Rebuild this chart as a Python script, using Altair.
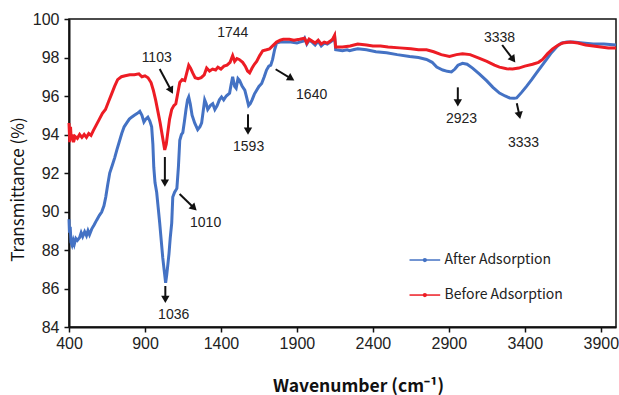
import math
import altair as alt
import pandas as pd

# ---------------- data ----------------
before_wn = [400, 405, 410, 415, 422, 430, 440, 455, 470, 485, 500, 515, 530, 545, 560, 580, 600, 620, 640, 660,
             680, 700, 720, 745, 770, 800, 830, 860, 880, 900, 920, 940, 955, 970, 985, 1000, 1015, 1030, 1040, 1050,
             1062, 1076, 1090, 1103, 1115, 1129, 1145, 1162, 1175, 1188, 1200, 1214, 1230, 1250, 1270, 1290, 1306,
             1325, 1345, 1365, 1380, 1400, 1420, 1440, 1460, 1477, 1490, 1505, 1520, 1543, 1560, 1575, 1589, 1605,
             1620, 1635, 1655, 1675, 1700, 1720, 1740, 1766, 1790, 1810, 1850, 1880, 1918, 1950, 1965, 1980, 2000,
             2020, 2040, 2060, 2080, 2100, 2120, 2135, 2148, 2155, 2200, 2250, 2300, 2358, 2400, 2450, 2500, 2576,
             2650, 2700, 2753, 2800, 2850, 2904, 2950, 2990, 3040, 3102, 3150, 3200, 3233, 3280, 3319, 3360, 3400,
             3451, 3490, 3517, 3550, 3583, 3620, 3649, 3700, 3750, 3800, 3850, 3900, 3950, 4000]
before_t = [94.6, 93.6, 94.4, 93.7, 94.0, 93.6, 93.9, 93.8, 94.0, 93.85, 94.0, 93.85, 94.05, 93.95, 94.2, 94.5, 94.8,
            95.1, 95.3, 95.7, 96.1, 96.5, 96.85, 97.0, 97.05, 97.1, 97.1, 97.15, 97.0, 97.05, 96.95, 96.7, 96.3,
            95.8, 95.2, 94.6, 93.9, 93.2, 93.5, 94.1, 94.8, 95.3, 95.5, 95.6, 96.1, 96.7, 96.85, 96.8, 97.2, 97.6,
            97.45, 97.2, 96.95, 96.9, 96.95, 97.1, 97.45, 97.3, 97.4, 97.35, 97.5, 97.4, 97.55, 97.6, 97.75, 98.1,
            97.8, 97.95, 97.9, 97.75, 97.55, 97.3, 97.2, 97.45, 97.65, 97.8, 98.1, 98.35, 98.4, 98.45, 98.6, 98.8,
            98.9, 98.95, 98.95, 98.9, 98.95, 99.0, 98.75, 98.95, 98.85, 98.75, 98.9, 98.7, 98.8, 98.75, 98.85,
            98.95, 99.15, 98.55, 98.55, 98.6, 98.7, 98.65, 98.6, 98.6, 98.55, 98.5, 98.45, 98.4, 98.4, 98.3, 98.15,
            98.05, 98.15, 98.2, 98.15, 97.95, 97.8, 97.6, 97.5, 97.42, 97.4, 97.45, 97.55, 97.65, 97.75, 97.9,
            98.2, 98.45, 98.65, 98.75, 98.8, 98.75, 98.65, 98.6, 98.55, 98.5, 98.5]

after_wn = [400, 403, 408, 413, 420, 428, 435, 445, 455, 470, 480, 490, 503, 515, 525, 535, 550, 565, 582, 600, 615,
            630, 642, 655, 668, 685, 701, 715, 730, 747, 763, 780, 797, 812, 830, 850, 866, 880, 893, 905, 919, 932,
            944, 952, 958, 966, 977, 987, 997, 1007, 1017, 1027, 1036, 1043, 1050, 1058, 1066, 1076, 1083, 1095,
            1110, 1120, 1129, 1140, 1149, 1160, 1170, 1180, 1188, 1198, 1210, 1227, 1247, 1262, 1273, 1283, 1293,
            1303, 1313, 1330, 1346, 1360, 1375, 1390, 1404, 1418, 1435, 1457, 1467, 1477, 1490, 1500, 1512, 1523,
            1540, 1557, 1570, 1582, 1593, 1605, 1620, 1635, 1650, 1668, 1685, 1700, 1715, 1728, 1740, 1753, 1766,
            1790, 1820, 1860, 1900, 1918, 1940, 1951, 1965, 1980, 2000, 2020, 2040, 2060, 2080, 2100, 2120, 2135,
            2148, 2155, 2200, 2230, 2247, 2270, 2300, 2358, 2420, 2490, 2560, 2642, 2700, 2753, 2790, 2820, 2860,
            2890, 2917, 2940, 2960, 2990, 3020, 3056, 3100, 3148, 3190, 3233, 3270, 3300, 3330, 3346, 3380, 3411,
            3445, 3477, 3510, 3543, 3575, 3609, 3640, 3675, 3720, 3780, 3850, 3920, 4000]
after_t = [89.6, 88.9, 89.2, 88.4, 88.25, 88.5, 88.3, 88.6, 88.5, 88.65, 88.9, 88.7, 88.95, 88.75, 89.0, 88.8, 89.1,
           89.3, 89.55, 89.8, 89.97, 90.3, 90.75, 91.4, 92.0, 92.4, 92.8, 93.2, 93.6, 94.05, 94.4, 94.6, 94.8, 94.9,
           95.0, 95.1, 95.2, 95.0, 94.65, 94.8, 94.9, 94.7, 94.4, 93.5, 92.3, 91.5, 91.0, 90.2, 89.4, 88.5, 87.6,
           86.9, 86.3, 86.7, 87.2, 87.8, 88.6, 89.4, 90.75, 91.0, 91.2, 92.3, 93.7, 94.0, 94.1, 94.7, 95.3, 95.8,
           95.95, 95.6, 95.0, 94.6, 94.25, 94.4, 94.6, 95.2, 95.8, 95.6, 95.3, 95.5, 95.6, 95.3, 95.5, 95.8, 95.95,
           95.8, 96.0, 96.15, 96.6, 97.0, 96.5, 96.4, 96.9, 96.8, 96.5, 96.3, 95.9, 95.5, 95.6, 95.8, 96.1, 96.3,
           96.5, 96.65, 97.0, 97.35, 97.55, 97.6, 97.9, 98.4, 98.75, 98.8, 98.8, 98.8, 98.75, 98.8, 98.85, 99.0,
           98.7, 98.9, 98.8, 98.65, 98.85, 98.6, 98.75, 98.7, 98.8, 98.9, 99.1, 98.4, 98.35, 98.4, 98.35, 98.4,
           98.45, 98.4, 98.3, 98.25, 98.15, 98.05, 98.0, 97.9, 97.75, 97.5, 97.35, 97.28, 97.25, 97.4, 97.6, 97.7,
           97.65, 97.45, 97.15, 96.8, 96.45, 96.15, 96.0, 95.9, 95.88, 95.9, 96.2, 96.5, 96.85, 97.2, 97.55, 97.9,
           98.25, 98.55, 98.75, 98.8, 98.8, 98.75, 98.7, 98.7, 98.65]

series_names = ["After Adsorption", "Before Adsorption"]
series_colors = ["#4472C4", "#ED1C24"]

x_ticks = [400, 900, 1400, 1900, 2400, 2900, 3400, 3900]
y_ticks = [84, 86, 88, 90, 92, 94, 96, 98, 100]

ann_text = ["1103", "1744", "1640", "1593", "2923", "3338", "3333", "1010", "1036"]
ann_x = [977, 1478, 1997, 1582, 2983, 3233, 3391, 1299, 1089]
ann_y = [97.97, 99.27, 96.05, 93.35, 94.8, 99.0, 93.55, 89.4, 84.62]

arrow_x1 = [997, 1760, 1578, 1031, 1128, 1034, 2959, 3251, 3347]
arrow_y1 = [97.40, 97.39, 95.05, 92.83, 90.91, 86.13, 96.45, 98.65, 95.62]
arrow_x2 = [1085, 1885, 1578, 1031, 1242, 1034, 2959, 3339, 3370]
arrow_y2 = [96.10, 96.80, 93.97, 91.27, 90.04, 85.23, 95.44, 97.73, 94.79]

# ---------------- layout ----------------
W, H = 547, 308
XD = [400, 4000]
YD = [84, 100]
SX = W / (XD[1] - XD[0])
SY = H / (YD[1] - YD[0])
HEAD_BACK = 4.0  # px the triangle centre sits behind the arrow tip

LEG_X1, LEG_X2, LEG_XT = 2641, 2843, 2872
LEG_Y = [87.48, 85.66]

TICK_FONT = "Liberation Sans"
CJK_FONT = "Noto Sans CJK SC"

# ---------------- frames ----------------
lines_df = pd.concat([
    pd.DataFrame({"wn": after_wn, "t": after_t, "series": series_names[0]}),
    pd.DataFrame({"wn": before_wn, "t": before_t, "series": series_names[1]}),
])

ann_df = pd.DataFrame({"x": ann_x, "y": ann_y, "label": ann_text})

rows = []
for x1, y1, x2, y2 in zip(arrow_x1, arrow_y1, arrow_x2, arrow_y2):
    dxp = (x2 - x1) * SX
    dyp = -(y2 - y1) * SY  # pixel, down positive
    L = math.hypot(dxp, dyp)
    ux, uy = dxp / L, dyp / L
    hx = x2 - ux * HEAD_BACK / SX
    hy = y2 + uy * HEAD_BACK / SY
    ang = math.degrees(math.atan2(dxp, -dyp)) % 360
    rows.append({"x1": x1, "y1": y1, "hx": hx, "hy": hy, "ang": ang})
arrow_df = pd.DataFrame(rows)

leg_df = pd.DataFrame({
    "series": series_names,
    "xa": [LEG_X1] * 2, "xb": [LEG_X2] * 2,
    "xm": [(LEG_X1 + LEG_X2) / 2] * 2, "xt": [LEG_XT] * 2,
    "y": LEG_Y,
})

xscale = alt.Scale(domain=XD, nice=False, zero=False)
yscale = alt.Scale(domain=YD, nice=False, zero=False)
cscale = alt.Scale(domain=series_names, range=series_colors)

x_axis = alt.Axis(
    values=x_ticks, title="Wavenumber (cm⁻¹)", format="d",
    titleX=289, titleY=59, titleAlign="center", titleBaseline="middle",
    titleFont=CJK_FONT, titleFontSize=17.5, titleFontWeight="bold", titleColor="#111",
    labelFont=TICK_FONT, labelFontSize=16, labelColor="#222", labelPadding=3,
    tickSize=5, tickWidth=1.5, tickColor="#111", domainColor="#111", domainWidth=2,
    grid=False, labelFlush=False, labelOverlap=False)
y_axis = alt.Axis(
    values=y_ticks, title="Transmittance (%)",
    titleX=-51, titleY=170, titleAngle=270, titleBaseline="middle", titleAlign="center",
    titleFont=CJK_FONT, titleFontSize=17, titleFontWeight="normal", titleColor="#111",
    labelFont=TICK_FONT, labelFontSize=16, labelColor="#222", labelPadding=5,
    tickSize=5, tickWidth=1.5, tickColor="#111", domainColor="#111", domainWidth=2,
    grid=False, labelFlush=False, labelOverlap=False)


def X(field):
    return alt.X(field, scale=xscale, axis=x_axis, title="Wavenumber (cm⁻¹)")


def Y(field):
    return alt.Y(field, scale=yscale, axis=y_axis, title="Transmittance (%)")


base_lines = alt.Chart(lines_df)

after_line = base_lines.transform_filter(alt.datum.series == series_names[0]).mark_line(
    strokeWidth=3, color=series_colors[0]
).encode(x=X("wn:Q"), y=Y("t:Q"), order="wn:Q")

before_line = base_lines.transform_filter(alt.datum.series == series_names[1]).mark_line(
    strokeWidth=3, color=series_colors[1]
).encode(x=X("wn:Q"), y=Y("t:Q"), order="wn:Q")

ann_text_layer = alt.Chart(ann_df).mark_text(
    font=TICK_FONT, fontSize=14, color="#222", align="center", baseline="middle"
).encode(x=X("x:Q"), y=Y("y:Q"), text="label:N")

arrow_shaft = alt.Chart(arrow_df).mark_rule(color="#111", strokeWidth=2).encode(
    x=X("x1:Q"), y=Y("y1:Q"), x2="hx:Q", y2="hy:Q",
)

arrow_head = alt.Chart(arrow_df).mark_point(
    shape="triangle-up", filled=True, size=70, color="#111", opacity=1, strokeWidth=0
).encode(
    x=X("hx:Q"), y=Y("hy:Q"),
    angle=alt.Angle("ang:Q", scale=None),
)

leg_line = alt.Chart(leg_df).mark_rule(strokeWidth=1.5).encode(
    x=X("xa:Q"), x2="xb:Q", y=Y("y:Q"),
    color=alt.Color("series:N", scale=cscale, legend=None),
)
leg_dot = alt.Chart(leg_df).mark_point(filled=True, size=18, opacity=1, shape="circle").encode(
    x=X("xm:Q"), y=Y("y:Q"),
    color=alt.Color("series:N", scale=cscale, legend=None),
)
leg_text = alt.Chart(leg_df).mark_text(
    font=CJK_FONT, fontSize=14, color="#222", align="left", baseline="middle"
).encode(x=X("xt:Q"), y=Y("y:Q"), text="series:N")

chart = alt.layer(
    after_line, before_line, arrow_shaft, arrow_head, ann_text_layer, leg_line, leg_dot, leg_text
).properties(
    width=W, height=H,
    autosize=alt.AutoSizeParams(type="none"),
    padding={"left": 69, "top": 19, "right": 3, "bottom": 68},
    background="white",
).configure_view(
    stroke="#111", strokeWidth=1.5
)

chart.save("out.html", embed_options={"renderer": "svg", "actions": False})
